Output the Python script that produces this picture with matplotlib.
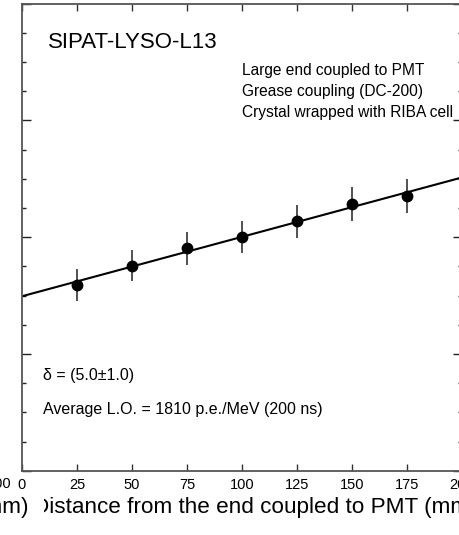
import numpy as np
import matplotlib
matplotlib.use('Agg')
import matplotlib.pyplot as plt
from matplotlib.patches import Rectangle
from matplotlib.ticker import MultipleLocator, NullFormatter

plt.rcParams['font.family'] = ['Liberation Sans', 'DejaVu Sans']

# light response along the crystal
distance = [25, 50, 75, 100, 125, 150, 175]
light_output = [1718, 1751, 1781, 1800, 1827, 1856, 1870]
lo_error = [27, 27, 28, 28, 28, 29, 29]
xticks = [0, 25, 50, 75, 100, 125, 150, 175, 200]

crystal = 'SIPAT-LYSO-L13'
conditions = ['Large end coupled to PMT',
              'Grease coupling (DC-200)',
              'Crystal wrapped with RIBA cell']
delta_text = '\u03b4 = (5.0\u00b11.0)'
avg_text = 'Average L.O. = 1810 p.e./MeV (200 ns)'

fig = plt.figure(figsize=(4.6, 5.35), dpi=100)
ax = fig.add_axes([22/460, 64.3/535, 440/460, 467.2/535])

# linear fit through the points
slope, icpt = np.polyfit(distance, light_output, 1)
xf = np.array([0, 200])
ax.plot(xf, slope*xf + icpt, color='black', lw=1.5, zorder=2)

ax.errorbar(distance, light_output, yerr=lo_error, fmt='o', color='black',
            ms=7.5, ecolor='#333333', elinewidth=1.2, capsize=0, zorder=3)

ax.set_xlim(0, 200)
ax.set_ylim(1400, 2200)
ax.set_xticks(xticks)
ax.yaxis.set_major_locator(MultipleLocator(200))
ax.yaxis.set_minor_locator(MultipleLocator(50))
ax.yaxis.set_major_formatter(NullFormatter())
ax.tick_params(axis='x', which='major', direction='in', length=5, width=1,
               top=True, labelsize=10.5, pad=5.5, color='#333333')
ax.tick_params(axis='y', which='major', direction='in', length=6.5, width=1,
               right=True, color='#222222')
ax.tick_params(axis='y', which='minor', direction='in', length=3.2, width=1,
               right=True, color='#222222')
for sp in ax.spines.values():
    sp.set_color('#555555')
    sp.set_linewidth(1.3)

ax.set_xlabel('Distance from the end coupled to PMT (mm)', fontsize=16.2)
ax.xaxis.label.set_va('center')
ax.xaxis.set_label_coords(0.528, -0.0777)

ax.text(0.059, 0.9155, crystal, transform=ax.transAxes, fontsize=16, va='center')
for i, line in enumerate(conditions):
    ax.text(0.4993, 0.857 - i*0.0447, line, transform=ax.transAxes,
            fontsize=11.2, va='center')
ax.text(0.0484, 0.2048, delta_text, transform=ax.transAxes, fontsize=11.5, va='center')
ax.text(0.0484, 0.130, avg_text, transform=ax.transAxes, fontsize=11.5, va='center')

# edge of the neighbouring panel
fig.patches.append(Rectangle((30/460, 1 - 527/535), 14/460, 34/535,
                             transform=fig.transFigure, facecolor='white',
                             edgecolor='none', zorder=1))
fig.text(11/460, 1 - 484.5/535, '200', fontsize=10.5, ha='right', va='center')
fig.text(29/460, 1 - 507/535, '(mm)', fontsize=16.2, ha='right', va='center')

fig.savefig('out.png', dpi=100)
